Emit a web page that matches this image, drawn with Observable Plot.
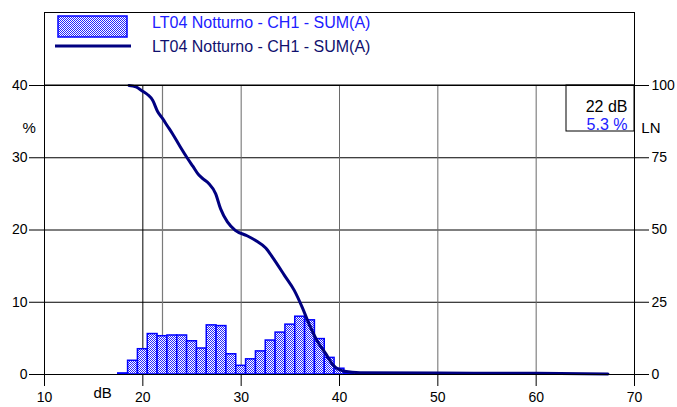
<!DOCTYPE html>
<html><head><meta charset="utf-8">
<script src="https://cdn.jsdelivr.net/npm/d3@7"></script>
<script src="https://cdn.jsdelivr.net/npm/@observablehq/plot@0.6"></script>
<style>
body{margin:0;background:#fff;}
#chart svg{font-family:"Liberation Sans",Arial,sans-serif;display:block;}
</style>
</head><body><div id="chart"></div>
<script>
// Histogram: 1 dB bins (centre value) and percentage of time
const binCenters = [18,19,20,21,22,23,24,25,26,27,28,29,30,31,32,33,34,35,36,37,38,39,40,41];
const binPercent = [0.15,1.9,3.5,5.6,5.3,5.4,5.4,4.6,3.6,6.8,6.7,2.8,1.2,2.1,3.2,4.7,5.8,6.9,8.0,7.5,4.9,2.3,0.8,0.2];
// Cumulative LN curve (level dB, LN %)
const lnLevels = [18.6,19.3,19.9,20.5,21.0,21.5,22.0,22.5,23.0,23.8,24.5,25.1,25.7,26.2,26.7,27.4,27.9,28.6,29.4,30.6,31.6,32.5,33.3,34.4,35.4,36.2,36.9,37.7,38.6,39.4,40.5,42.1,50,60,67.3];
const lnValues = [100,99.5,98.2,96.8,94.9,91.0,88.6,86.0,83.4,78.8,75.0,72.0,69.0,67.5,66.1,62.6,57.4,52.8,49.9,48.0,46.1,43.8,40.0,34.3,29.1,23.3,17.5,11.8,7.2,3.1,1.1,0.6,0.5,0.4,0.15];
const xTicks = [10,20,30,40,50,60,70];
const yTicks = [0,10,20,30,40];
const lnTicks = [0,25,50,75,100];
const gridDark = [20];
const gridGray = [30,40,50,60];
const hGrid = [10,20,30];
const legendLabel = "LT04 Notturno - CH1 - SUM(A)";
const cursorDb = 22;
const cursorPct = 5.3;

const lnMax = 100, pctMax = 40;
const bins = binCenters.map((c,i)=>({x1:c-0.5,x2:c+0.5,y:binPercent[i]}));
const ln = lnLevels.map((x,i)=>({x, y:lnValues[i]*pctMax/lnMax}));

const chart = Plot.plot({
  width:677, height:407,
  marginLeft:44, marginRight:43, marginTop:85, marginBottom:33,
  style:{fontFamily:"Liberation Sans, Arial, sans-serif", fontSize:"14px", background:"white", color:"black"},
  x:{domain:[10,70]},
  y:{domain:[0,pctMax]},
  marks:[
    Plot.ruleY(hGrid,{stroke:"black", strokeWidth:1}),
    Plot.ruleX(gridDark,{stroke:"black", strokeWidth:1}),
    Plot.ruleX(gridGray,{stroke:"#6a6a6a", strokeWidth:1}),
    Plot.ruleX([cursorDb],{stroke:"#7a7a7a", strokeWidth:1.2}),
    Plot.rectY(bins,{x1:"x1",x2:"x2",y:"y",fill:"url(#chk)",stroke:"#0000ff",strokeWidth:1.5}),
    Plot.line(ln,{x:"x",y:"y",stroke:"#000080",strokeWidth:3,curve:"monotone-x"}),
    Plot.frame({stroke:"black"}),
    Plot.axisX({ticks:xTicks, tickSize:12, tickPadding:6, label:null, fontSize:14}),
    Plot.axisY({anchor:"left", ticks:yTicks, tickSize:15, tickPadding:2, label:null, fontSize:14}),
    Plot.axisY({anchor:"right", ticks:lnTicks.map(d=>d*pctMax/lnMax), tickFormat:d=>String(Math.round(d*lnMax/pctMax)), tickSize:14, tickPadding:3, label:null, fontSize:14}),
    Plot.text(["%"],{frameAnchor:"top-left", dx:-22, dy:37, fontSize:15}),
    Plot.text(["LN"],{frameAnchor:"top-right", dx:26, dy:37, fontSize:15}),
    Plot.text(["dB"],{frameAnchor:"bottom-left", dx:49, dy:23, fontSize:15}),
    Plot.text([`${cursorDb} dB`],{frameAnchor:"top-right", dx:-7, dy:15, textAnchor:"end", fontSize:16, fill:"black"}),
    Plot.text([`${cursorPct} %`],{frameAnchor:"top-right", dx:-7, dy:33, textAnchor:"end", fontSize:16, fill:"#2020ff"})
  ]
});
document.getElementById("chart").appendChild(chart);

const svg = d3.select(chart);
const defs = svg.insert("defs",":first-child");
const pat = defs.append("pattern").attr("id","chk").attr("width",2).attr("height",2).attr("patternUnits","userSpaceOnUse");
pat.append("rect").attr("width",2).attr("height",2).attr("fill","#ffffff");
pat.append("rect").attr("width",1).attr("height",1).attr("fill","#2424ff");
pat.append("rect").attr("x",1).attr("y",1).attr("width",1).attr("height",1).attr("fill","#2424ff");

// cursor box
svg.append("rect").attr("x",566).attr("y",85).attr("width",68).attr("height",46)
  .attr("fill","none").attr("stroke","black").attr("stroke-width",1);

// legend box
const lg = svg.append("g").attr("text-anchor","start");
lg.append("rect").attr("x",44.5).attr("y",12.5).attr("width",590).attr("height",72.5)
  .attr("fill","none").attr("stroke","black").attr("stroke-width",1);
lg.append("rect").attr("x",58).attr("y",16).attr("width",69).attr("height",21)
  .attr("fill","url(#chk)").attr("stroke","#0000ff").attr("stroke-width",1.5);
lg.append("line").attr("x1",55).attr("x2",131).attr("y1",46).attr("y2",46)
  .attr("stroke","#000080").attr("stroke-width",3);
lg.append("text").attr("x",152).attr("y",22).attr("dy","0.35em").attr("font-size",16)
  .attr("text-anchor","start").attr("fill","#2020ff").text(legendLabel);
lg.append("text").attr("x",152).attr("y",46).attr("dy","0.35em").attr("font-size",16)
  .attr("text-anchor","start").attr("fill","#10106e").text(legendLabel);
</script>
</body></html>
